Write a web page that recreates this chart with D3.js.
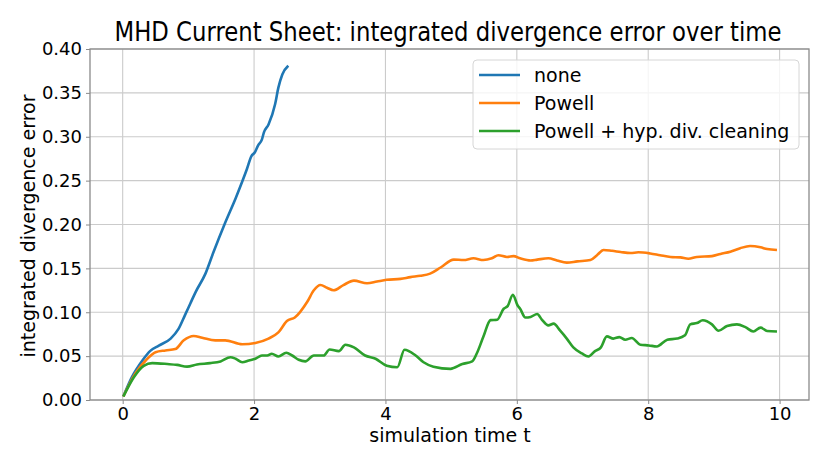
<!DOCTYPE html>
<html>
<head>
<meta charset="utf-8">
<script src="https://cdn.jsdelivr.net/npm/d3@7"></script>
<style>
  body { margin: 0; background: #fff; }
  text { font-family: "DejaVu Sans", sans-serif; fill: #000; }
</style>
</head>
<body>
<script>
// series: simulation time t and integrated divergence error
var noneT   = [0.01, 0.14, 0.30, 0.42, 0.55, 0.73, 0.85, 0.95, 1.03, 1.11, 1.26, 1.38, 1.56, 1.72, 1.82, 1.89, 1.96, 2.01, 2.06, 2.12, 2.15, 2.22, 2.32, 2.37, 2.43, 2.52];
var noneErr = [0.004, 0.026, 0.045, 0.056, 0.062, 0.070, 0.081, 0.097, 0.110, 0.123, 0.144, 0.168, 0.202, 0.230, 0.249, 0.263, 0.278, 0.282, 0.290, 0.297, 0.305, 0.314, 0.337, 0.356, 0.371, 0.381];

var powellT   = [0.01, 0.19, 0.35, 0.50, 0.65, 0.80, 0.93, 1.08, 1.21, 1.41, 1.56, 1.82, 2.02, 2.22, 2.37, 2.50, 2.62, 2.81, 2.91, 3.01, 3.11, 3.21, 3.36, 3.52, 3.72, 3.87, 4.02, 4.23, 4.38, 4.53, 4.68, 4.84, 5.04, 5.19, 5.34, 5.49, 5.62, 5.72, 5.85, 5.95, 6.05, 6.21, 6.31, 6.48, 6.61, 6.76, 6.92, 7.12, 7.22, 7.32, 7.45, 7.58, 7.73, 7.85, 8.03, 8.18, 8.34, 8.49, 8.61, 8.74, 8.97, 9.10, 9.25, 9.40, 9.55, 9.71, 9.81, 9.96];
var powellErr = [0.004, 0.030, 0.045, 0.0545, 0.0565, 0.058, 0.068, 0.073, 0.071, 0.068, 0.068, 0.0635, 0.065, 0.070, 0.077, 0.090, 0.094, 0.112, 0.125, 0.131, 0.128, 0.125, 0.131, 0.136, 0.133, 0.135, 0.137, 0.138, 0.140, 0.1415, 0.144, 0.151, 0.160, 0.1595, 0.1615, 0.1595, 0.1615, 0.165, 0.163, 0.164, 0.1615, 0.159, 0.160, 0.1615, 0.159, 0.1565, 0.158, 0.1595, 0.165, 0.171, 0.170, 0.1687, 0.1675, 0.1683, 0.167, 0.165, 0.163, 0.1625, 0.161, 0.163, 0.164, 0.1665, 0.169, 0.173, 0.1755, 0.174, 0.172, 0.171];

var cleanT   = [0.01, 0.17, 0.32, 0.45, 0.68, 0.83, 0.98, 1.13, 1.33, 1.49, 1.64, 1.72, 1.82, 1.92, 2.02, 2.12, 2.20, 2.27, 2.37, 2.49, 2.58, 2.68, 2.78, 2.91, 3.06, 3.15, 3.29, 3.39, 3.52, 3.69, 3.85, 4.02, 4.18, 4.29, 4.46, 4.58, 4.73, 4.99, 5.17, 5.32, 5.39, 5.49, 5.60, 5.70, 5.80, 5.86, 5.94, 6.01, 6.05, 6.13, 6.21, 6.31, 6.38, 6.48, 6.56, 6.66, 6.76, 6.86, 6.99, 7.09, 7.19, 7.28, 7.37, 7.47, 7.56, 7.65, 7.75, 7.88, 8.01, 8.13, 8.29, 8.44, 8.56, 8.64, 8.74, 8.83, 8.97, 9.07, 9.20, 9.35, 9.48, 9.60, 9.71, 9.81, 9.96];
var cleanErr = [0.004, 0.026, 0.039, 0.042, 0.041, 0.040, 0.038, 0.0405, 0.042, 0.044, 0.0488, 0.047, 0.043, 0.045, 0.047, 0.0507, 0.0507, 0.0527, 0.0496, 0.0538, 0.0507, 0.0458, 0.044, 0.0507, 0.0507, 0.0576, 0.0557, 0.063, 0.060, 0.0507, 0.047, 0.039, 0.0373, 0.0573, 0.0507, 0.043, 0.038, 0.0355, 0.041, 0.044, 0.053, 0.072, 0.091, 0.0915, 0.104, 0.107, 0.120, 0.108, 0.104, 0.094, 0.0947, 0.098, 0.0917, 0.085, 0.087, 0.079, 0.070, 0.060, 0.053, 0.0496, 0.0557, 0.060, 0.0725, 0.070, 0.0717, 0.0687, 0.0706, 0.063, 0.0622, 0.061, 0.0687, 0.070, 0.0737, 0.0862, 0.0877, 0.0908, 0.0862, 0.079, 0.0843, 0.0862, 0.083, 0.078, 0.0825, 0.0786, 0.078];

var seriesNames = ["none", "Powell", "Powell + hyp. div. cleaning"];
var seriesColors = ["#1f77b4", "#ff7f0e", "#2ca02c"];
var xTicks = [0, 2, 4, 6, 8, 10];
var yTicks = [0, 0.05, 0.10, 0.15, 0.20, 0.25, 0.30, 0.35, 0.40];

var width = 830,
    height = 467,
    svg = d3.select("body")
    .append("svg")
    .attr("width", width)
    .attr("height", height);

var plotL = 90, plotR = 809, plotT = 49, plotB = 400;

var x = d3.scaleLinear()
    .domain([-0.4975, 10.4475])
    .range([plotL, plotR]);
var y = d3.scaleLinear()
    .domain([0, 0.40])
    .range([plotB, plotT]);

// grid
svg.append("g")
  .selectAll("line")
  .data(xTicks)
  .enter().append("line")
    .attr("x1", function(d) { return x(d); })
    .attr("x2", function(d) { return x(d); })
    .attr("y1", plotT).attr("y2", plotB)
    .attr("stroke", "#cbcbcb").attr("stroke-width", 1.1);
svg.append("g")
  .selectAll("line")
  .data(yTicks)
  .enter().append("line")
    .attr("y1", function(d) { return y(d); })
    .attr("y2", function(d) { return y(d); })
    .attr("x1", plotL).attr("x2", plotR)
    .attr("stroke", "#cbcbcb").attr("stroke-width", 1.1);

// lines
var series = [
  d3.zip(noneT, noneErr),
  d3.zip(powellT, powellErr),
  d3.zip(cleanT, cleanErr)
];
var line = d3.line()
    .x(function(d) { return x(d[0]); })
    .y(function(d) { return y(d[1]); })
    .curve(d3.curveMonotoneX);

svg.append("g")
  .selectAll("path")
  .data(series)
  .enter().append("path")
    .attr("fill", "none")
    .attr("stroke", function(d, i) { return seriesColors[i]; })
    .attr("stroke-width", 2.6)
    .attr("stroke-linejoin", "round")
    .attr("d", line);

// frame
svg.append("rect")
    .attr("x", plotL).attr("y", plotT)
    .attr("width", plotR - plotL).attr("height", plotB - plotT)
    .attr("fill", "none").attr("stroke", "#8a8a8a").attr("stroke-width", 1.3);

// axes
var xAxis = svg.append("g")
    .attr("transform", "translate(0," + plotB + ")")
    .call(d3.axisBottom(x).tickValues(xTicks).tickSize(4).tickPadding(3).tickFormat(d3.format("d")));
var yAxis = svg.append("g")
    .attr("transform", "translate(" + plotL + ",0)")
    .call(d3.axisLeft(y).tickValues(yTicks).tickSize(4).tickPadding(4).tickFormat(d3.format(".2f")));
[xAxis, yAxis].forEach(function(a) {
  a.select(".domain").remove();
  a.selectAll("line").attr("stroke", "#8a8a8a");
  a.selectAll("text").attr("font-size", 18).attr("font-family", "DejaVu Sans").attr("fill", "#000");
});

// labels
svg.append("text")
    .attr("x", 450).attr("y", 442)
    .attr("text-anchor", "middle")
    .attr("font-size", 19)
    .text("simulation time t");

svg.append("text")
    .attr("transform", "translate(35,226) rotate(-90)")
    .attr("text-anchor", "middle")
    .attr("font-size", 19)
    .text("integrated divergence error");

// title is drawn narrow, like the original
svg.append("text")
    .attr("transform", "translate(448,41) scale(0.876,1)")
    .attr("text-anchor", "middle")
    .attr("font-size", 26)
    .text("MHD Current Sheet: integrated divergence error over time");

// legend
var lg = svg.append("g").attr("class", "legend");
lg.append("rect")
    .attr("x", 473).attr("y", 60)
    .attr("width", 326).attr("height", 89)
    .attr("rx", 4)
    .attr("fill", "#fff").attr("fill-opacity", 0.8)
    .attr("stroke", "#d6d6d6");
var rows = lg.selectAll("g.row")
  .data(seriesNames)
  .enter().append("g")
    .attr("class", "row")
    .attr("transform", function(d, i) { return "translate(0," + (75 + i * 28) + ")"; });
rows.append("line")
    .attr("x1", 479).attr("x2", 520)
    .attr("stroke", function(d, i) { return seriesColors[i]; })
    .attr("stroke-width", 2.6);
rows.append("text")
    .attr("x", 534).attr("y", 7)
    .attr("font-size", 19)
    .text(function(d) { return d; });
</script>
</body>
</html>
